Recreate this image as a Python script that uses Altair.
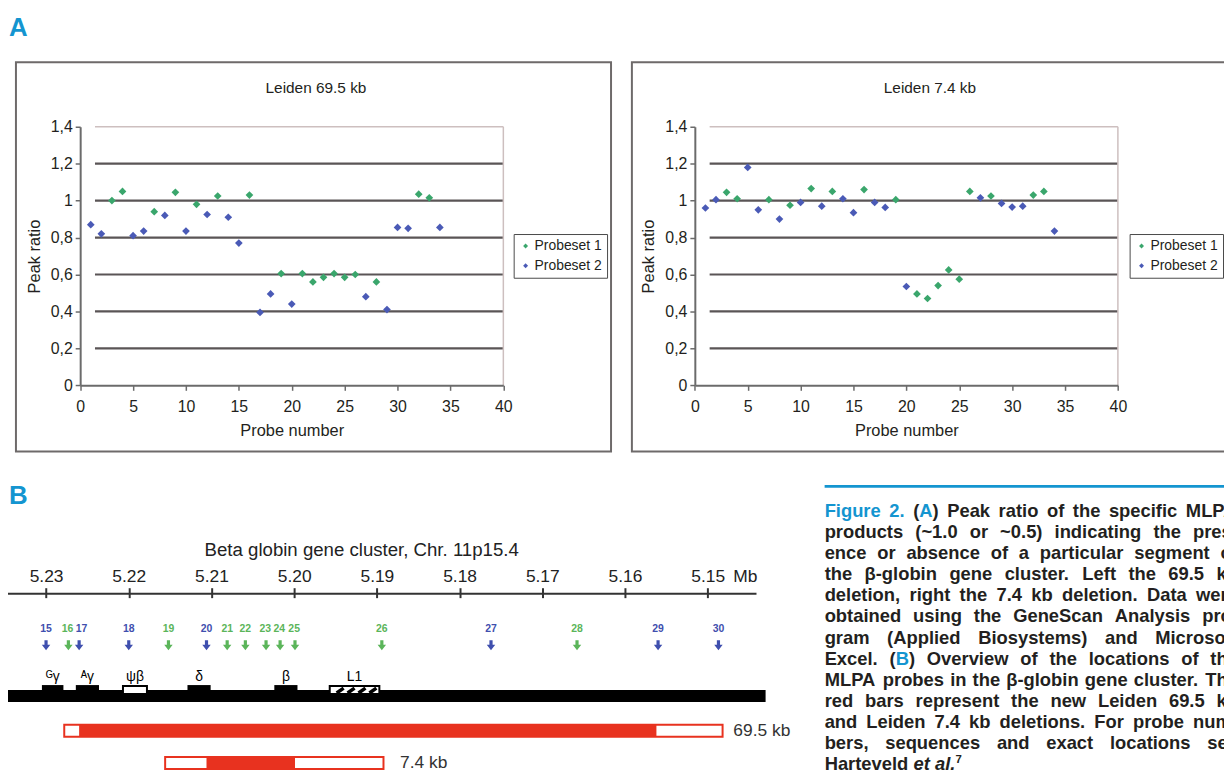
import altair as alt
import numpy as np
import pandas as pd

# ----------------------------- Panel A values -----------------------------
series_names = ["Probeset 1", "Probeset 2"]
probeset1_probes = [3, 4, 7, 9, 11, 13, 16, 19, 21, 22, 23, 24, 25, 26, 28, 32, 33]
probeset2_probes = [1, 2, 5, 6, 8, 10, 12, 14, 15, 17, 18, 20, 27, 29, 30, 31, 34]
leiden695_probeset1 = [1.00, 1.05, 0.94, 1.045, 0.98, 1.025, 1.03, 0.605, 0.605, 0.56,
                       0.585, 0.605, 0.585, 0.60, 0.56, 1.035, 1.015]
leiden695_probeset2 = [0.87, 0.82, 0.81, 0.835, 0.92, 0.835, 0.925, 0.91, 0.77, 0.395,
                       0.495, 0.44, 0.48, 0.41, 0.855, 0.85, 0.855]
leiden74_probeset1 = [1.045, 1.01, 1.005, 0.975, 1.065, 1.05, 1.06, 1.005, 0.495, 0.47,
                      0.54, 0.625, 0.575, 1.05, 1.025, 1.03, 1.05]
leiden74_probeset2 = [0.96, 1.005, 1.18, 0.95, 0.90, 0.99, 0.97, 1.01, 0.935, 0.99,
                      0.963, 0.535, 1.015, 0.985, 0.965, 0.97, 0.835]
ratio_ticks = [0, 0.2, 0.4, 0.6, 0.8, 1.0, 1.2, 1.4]
probe_ticks = [0, 5, 10, 15, 20, 25, 30, 35, 40]
panel_titles = ["Leiden 69.5 kb", "Leiden 7.4 kb"]

# ----------------------------- Panel B values -----------------------------
map_title = "Beta globin gene cluster, Chr. 11p15.4"
mb_ticks = [5.23, 5.22, 5.21, 5.20, 5.19, 5.18, 5.17, 5.16, 5.15]
ruler_mb = [5.2350, 5.1441]
cluster_mb = [5.2348, 5.1430]
probe_ids = [15, 16, 17, 18, 19, 20, 21, 22, 23, 24, 25, 26, 27, 28, 29, 30]
probe_mb = [5.2300, 5.2273, 5.2260, 5.2200, 5.2152, 5.2106, 5.2081, 5.2059,
            5.2034, 5.2017, 5.1999, 5.1894, 5.1762, 5.1658, 5.1560, 5.1487]
probe_label_mb = [5.2300, 5.2274, 5.2257, 5.2200, 5.2152, 5.2106, 5.2081, 5.2059,
                  5.2035, 5.2018, 5.2000, 5.1894, 5.1762, 5.1658, 5.1560, 5.1487]
probe_set = [2, 1, 2, 2, 1, 2, 1, 1, 1, 1, 1, 1, 2, 1, 2, 2]
gene_names = ["\u1d33\u03b3", "\u1d2c\u03b3", "\u03c8\u03b2", "\u03b4", "\u03b2", "L1"]
gene_start_mb = [5.2305, 5.2264, 5.2207, 5.2129, 5.2024, 5.1957]
gene_end_mb = [5.2279, 5.2236, 5.2178, 5.2101, 5.1996, 5.1897]
gene_kind = ["gene", "gene", "pseudogene", "gene", "gene", "repeat"]
deletion_names = ["69.5 kb", "7.4 kb"]
deletion_outer_start = [5.2278, 5.2156]
deletion_outer_end = [5.1482, 5.1892]
deletion_core_start = [5.2260, 5.2106]
deletion_core_end = [5.1562, 5.1999]
deletion_label_mb = [5.1469, 5.1872]

caption_lines = [
    "[Figure 2.] ([A]) Peak ratio of the specific MLPA",
    "products (~1.0 or ~0.5) indicating the pres-",
    "ence or absence of a particular segment of",
    "the \u03b2-globin gene cluster. Left the 69.5 kb",
    "deletion, right the 7.4 kb deletion. Data were",
    "obtained using the GeneScan Analysis pro-",
    "gram (Applied Biosystems) and Microsoft",
    "Excel. ([B]) Overview of the locations of the",
    "MLPA probes in the \u03b2-globin gene cluster. The",
    "red bars represent the new Leiden 69.5 kb",
    "and Leiden 7.4 kb deletions. For probe num-",
    "bers, sequences and exact locations see",
    "Harteveld {et al.}^7",
]

# ----------------------------- styling / layout -----------------------------
W, H = 1224, 766
GREEN, BLUE = "#3aa66c", "#4a5ab6"
MAP_GREEN, MAP_BLUE = "#5bb55a", "#3f4fae"
RED, CYAN = "#e8321f", "#1495d0"
DARK, FRAME, GRID, LIGHT = "#231f20", "#6e6a6a", "#5a5556", "#cdbfbf"
FONT = "Liberation Sans"
Y_ZERO, Y_TOP = 377.3, 117.0
LEFT_X, RIGHT_X = [72.65, 498.6], [691.35, 1117.2]
MB_RANGE = [38.3, 704.3]


def one():
    return pd.DataFrame({"k": [0]})


def scatter_layers(p1, p2, xrange, title, title_x, legend_x, frame_x):
    xs = alt.Scale(domain=[0, 40], range=xrange, nice=False, zero=False)
    ys = alt.Scale(domain=[0, 1.4], range=[Y_ZERO, Y_TOP], nice=False, zero=False)
    out = []
    out.append(alt.Chart(one()).mark_rect(fill="white", fillOpacity=0, stroke=FRAME, strokeWidth=2).encode(
        x=alt.value(frame_x[0]), x2=alt.value(frame_x[1]), y=alt.value(52), y2=alt.value(444)))
    grid_df = pd.DataFrame({"y": ratio_ticks[1:-1], "x": 1.4, "x2": 40})
    out.append(alt.Chart(grid_df).mark_rule(color=GRID, strokeWidth=2.2).encode(
        x=alt.X("x:Q", scale=xs, axis=None), x2="x2:Q",
        y=alt.Y("y:Q", scale=ys, axis=None)))
    border_df = pd.DataFrame({"x": [1.4, 40], "x2": [40, 40], "y": [1.4, 0], "y2": [1.4, 1.4]})
    out.append(alt.Chart(border_df).mark_rule(color=LIGHT, strokeWidth=1.5).encode(
        x=alt.X("x:Q", scale=xs, axis=None), x2="x2:Q",
        y=alt.Y("y:Q", scale=ys, axis=None), y2="y2:Q"))
    df = pd.DataFrame({
        "probe": probeset1_probes + probeset2_probes,
        "ratio": p1 + p2,
        "series": [series_names[0]] * len(p1) + [series_names[1]] * len(p2),
    })
    out.append(alt.Chart(df).mark_point(shape="diamond", filled=True, size=60, opacity=1).encode(
        x=alt.X("probe:Q", scale=xs, axis=alt.Axis(
            orient="bottom", offset=Y_ZERO - H, values=probe_ticks, tickSize=5,
            labelPadding=8, labelFontSize=16, labelFlush=False, title="Probe number",
            titleFontSize=16.5, titlePadding=8, domainWidth=2, tickWidth=1.5, zindex=1)),
        y=alt.Y("ratio:Q", scale=ys, axis=alt.Axis(
            orient="left", offset=-xrange[0], values=ratio_ticks, tickSize=5,
            labelExpr="replace(format(datum.value, '.1~f'), '.', ',')",
            labelPadding=3, labelFontSize=16, title="Peak ratio", titleFontSize=16.5,
            titlePadding=8, domainWidth=2, tickWidth=1.5, zindex=1)),
        color=alt.Color("series:N", scale=alt.Scale(domain=series_names, range=[GREEN, BLUE]),
                        legend=alt.Legend(orient="none", legendX=legend_x, legendY=225, title=None,
                                          padding=5, strokeColor="#4a4a4a", fillColor="white",
                                          labelFontSize=14, labelFont=FONT, labelColor=DARK,
                                          symbolType="diamond", symbolSize=25, rowPadding=6,
                                          labelOffset=2, symbolStrokeWidth=0))))
    out.append(alt.Chart(pd.DataFrame({"t": [title]})).mark_text(
        font=FONT, fontSize=15.5, color=DARK, baseline="middle").encode(
        text="t:N", x=alt.value(title_x), y=alt.value(78)))
    return out


layers = []
# panel letters
for letter, yy in [("A", 26), ("B", 497)]:
    layers.append(alt.Chart(pd.DataFrame({"t": [letter]})).mark_text(
        font=FONT, fontWeight="bold", fontSize=26, color=CYAN, align="left",
        baseline="alphabetic").encode(text="t:N", x=alt.value(1), y=alt.value(yy)))

layers += scatter_layers(leiden695_probeset1, leiden695_probeset2, LEFT_X, panel_titles[0], 310, 509, [8, 607])
layers += scatter_layers(leiden74_probeset1, leiden74_probeset2, RIGHT_X, panel_titles[1], 928, 1129, [628, 1244])

# ----------------------------- Panel B: gene map -----------------------------
mbs = alt.Scale(domain=[mb_ticks[0], mb_ticks[-1]], range=MB_RANGE, nice=False, zero=False)

ruler_df = pd.DataFrame({"a": [ruler_mb[0]], "b": [ruler_mb[1]]})
layers.append(alt.Chart(ruler_df).mark_rule(color="#333333", strokeWidth=2).encode(
    x=alt.X("a:Q", scale=mbs, axis=alt.Axis(
        orient="top", offset=-591, values=mb_ticks, format=".2f", tickSize=10, tickWidth=2,
        tickColor="#333333", domain=False, labelPadding=2, labelFontSize=17.5,
        labelFlush=False, labelColor="#222222", title=None, zindex=1)),
    x2="b:Q", y=alt.value(587)))
layers.append(alt.Chart(pd.DataFrame({"t": [map_title]})).mark_text(
    font=FONT, fontSize=18.75, color="#222222", baseline="middle").encode(
    text="t:N", x=alt.value(356), y=alt.value(543)))
layers.append(alt.Chart(pd.DataFrame({"t": ["Mb"], "x": [5.1469]})).mark_text(
    font=FONT, fontSize=17.5, color="#222222", align="left", baseline="bottom").encode(
    text="t:N", x=alt.X("x:Q", scale=mbs, axis=None), y=alt.value(579)))

probe_df = pd.DataFrame({
    "id": [str(p) for p in probe_ids], "mb": probe_mb, "label_mb": probe_label_mb,
    "col": [MAP_GREEN if s == 1 else MAP_BLUE for s in probe_set]})
arrow = "M-0.32,-1 L0.32,-1 L0.32,-0.1 L0.85,-0.1 L0,1 L-0.85,-0.1 L-0.32,-0.1 Z"
layers.append(alt.Chart(probe_df).mark_point(shape=arrow, filled=True, size=100, opacity=1).encode(
    x=alt.X("mb:Q", scale=mbs, axis=None), y=alt.value(639),
    color=alt.Color("col:N", scale=None)))
layers.append(alt.Chart(probe_df).mark_text(
    font=FONT, fontWeight="bold", fontSize=10.5, baseline="middle").encode(
    x=alt.X("label_mb:Q", scale=mbs, axis=None), y=alt.value(623), text="id:N",
    color=alt.Color("col:N", scale=None)))

# chromosome segment
cl_df = pd.DataFrame({"a": [cluster_mb[0]], "b": [cluster_mb[1]]})
layers.append(alt.Chart(cl_df).mark_rect(color="black").encode(
    x=alt.X("a:Q", scale=mbs, axis=None), x2="b:Q", y=alt.value(684), y2=alt.value(696)))

gene_df = pd.DataFrame({"name": gene_names, "s": gene_start_mb, "e": gene_end_mb, "kind": gene_kind})
gene_df["mid"] = (gene_df["s"] + gene_df["e"]) / 2
layers.append(alt.Chart(gene_df[gene_df.kind == "gene"]).mark_rect(color="black").encode(
    x=alt.X("s:Q", scale=mbs, axis=None), x2="e:Q", y=alt.value(679), y2=alt.value(689)))
layers.append(alt.Chart(gene_df[gene_df.kind != "gene"]).mark_rect(
    fill="white", stroke="black", strokeWidth=2).encode(
    x=alt.X("s:Q", scale=mbs, axis=None), x2="e:Q", y=alt.value(680), y2=alt.value(688)))
rep = gene_df[gene_df.kind == "repeat"].iloc[0]
span = rep["s"] - rep["e"]
hatch_df = pd.DataFrame({"b": [rep["s"] - span * f for f in np.linspace(0.14, 0.8, 4)]})
hatch_df["t"] = hatch_df["b"] - span * 0.14
layers.append(alt.Chart(hatch_df).mark_rule(color="black", strokeWidth=3.5).encode(
    x=alt.X("b:Q", scale=mbs, axis=None), x2="t:Q", y=alt.value(687), y2=alt.value(682)))
layers.append(alt.Chart(gene_df).mark_text(font=FONT, fontSize=14, color="black",
                                           baseline="middle").encode(
    x=alt.X("mid:Q", scale=mbs, axis=None), y=alt.value(671), text="name:N"))

# deletions
del_df = pd.DataFrame({"name": deletion_names, "os": deletion_outer_start, "oe": deletion_outer_end,
                       "cs": deletion_core_start, "ce": deletion_core_end, "lab": deletion_label_mb})
dys = alt.Scale(type="band", domain=deletion_names, range=[708.75, 773.75], paddingInner=0, paddingOuter=0)
layers.append(alt.Chart(del_df).mark_bar(fill="white", stroke=RED, strokeWidth=2, size=12).encode(
    x=alt.X("os:Q", scale=mbs, axis=None), x2="oe:Q", y=alt.Y("name:N", scale=dys, axis=None)))
layers.append(alt.Chart(del_df).mark_bar(color=RED, size=12).encode(
    x=alt.X("cs:Q", scale=mbs, axis=None), x2="ce:Q", y=alt.Y("name:N", scale=dys, axis=None)))
layers.append(alt.Chart(del_df).mark_text(font=FONT, fontSize=17.5, color="#333333", align="left",
                                          baseline="middle").encode(
    x=alt.X("lab:Q", scale=mbs, axis=None), y=alt.Y("name:N", scale=dys, axis=None), text="name:N"))

# ----------------------------- caption -----------------------------
HB = {" ": 278, "(": 333, ")": 333, ",": 278, "-": 333, ".": 278, "~": 584, "\u03b2": 611}
for c in "0123456789":
    HB[c] = 556
HB.update(dict(A=722, B=722, C=722, D=722, E=667, F=611, G=778, H=722, I=278, J=556, K=722, L=611,
               M=833, N=722, O=778, P=667, Q=778, R=722, S=667, T=611, U=722, V=667, W=944, X=667,
               Y=667, Z=611, a=556, b=611, c=556, d=611, e=556, f=333, g=611, h=611, i=278, j=278,
               k=556, l=278, m=889, n=611, o=611, p=611, q=611, r=389, s=556, t=333, u=611, v=556,
               w=778, x=556, y=556, z=500))
CAP_LEFT, CAP_RIGHT, CAP_TOP, CAP_LEAD, CAP_SIZE, SUP = 822, 1238, 510, 21.2, 18.5, 0.62


def cw(ch, st):
    return HB.get(ch, 556) * CAP_SIZE * (SUP if st == "s" else 1) / 1000


def parse(line):
    out, style, sup = [], "n", False
    for ch in line:
        if ch in "[{]}^":
            if ch == "[":
                style = "c"
            elif ch == "{":
                style = "i"
            elif ch in "]}":
                style = "n"
            else:
                sup = True
            continue
        out.append((ch, "s" if sup else style))
        sup = False
    return out


rows = []
for li, line in enumerate(caption_lines):
    words, cur = [], []
    for ch, st in parse(line):
        if ch == " ":
            if cur:
                words.append(cur)
            cur = []
        else:
            cur.append((ch, st))
    if cur:
        words.append(cur)
    widths = [sum(cw(c, s) for c, s in w) for w in words]
    last = li == len(caption_lines) - 1
    gap = cw(" ", "n") if last else (CAP_RIGHT - CAP_LEFT - sum(widths)) / (len(words) - 1)
    x = CAP_LEFT
    y = CAP_TOP + li * CAP_LEAD
    for word, wd in zip(words, widths):
        runs = []
        for c, s in word:
            if runs and runs[-1][1] == s:
                runs[-1][0] += c
            else:
                runs.append([c, s])
        rx = x
        for text, s in runs:
            rows.append({"text": text, "x": rx, "y": y, "style": s,
                         "color": CYAN if s == "c" else DARK})
            rx += sum(cw(c, s) for c in text)
        x += wd + gap
cap_df = pd.DataFrame(rows)

layers.append(alt.Chart(one()).mark_rule(color=CYAN, strokeWidth=3).encode(
    x=alt.value(822), x2=alt.value(1224), y=alt.value(479)))
for styles, extra in [(["n", "c"], {}), (["i"], {"fontStyle": "italic"}),
                      (["s"], {"fontSize": CAP_SIZE * SUP, "dy": -7})]:
    sub = cap_df[cap_df["style"].isin(styles)]
    if len(sub) == 0:
        continue
    kw = dict(font=FONT, fontWeight="bold", fontSize=CAP_SIZE, align="left", baseline="alphabetic")
    kw.update(extra)
    layers.append(alt.Chart(sub).mark_text(**kw).encode(
        x=alt.X("x:Q", scale=None), y=alt.Y("y:Q", scale=None), text="text:N",
        color=alt.Color("color:N", scale=None)))

chart = alt.layer(*layers).resolve_scale(
    x="independent", y="independent", color="independent"
).properties(
    width=W, height=H, autosize=alt.AutoSizeParams(type="none"), padding=0, background="white"
).configure_view(strokeWidth=0).configure_axis(
    grid=False, labelFont=FONT, titleFont=FONT, labelColor=DARK, titleColor=DARK,
    titleFontWeight="normal", domainColor="#6b6b6b", tickColor="#6b6b6b"
)

chart.save("out.html", embed_options={"renderer": "svg", "actions": False})
